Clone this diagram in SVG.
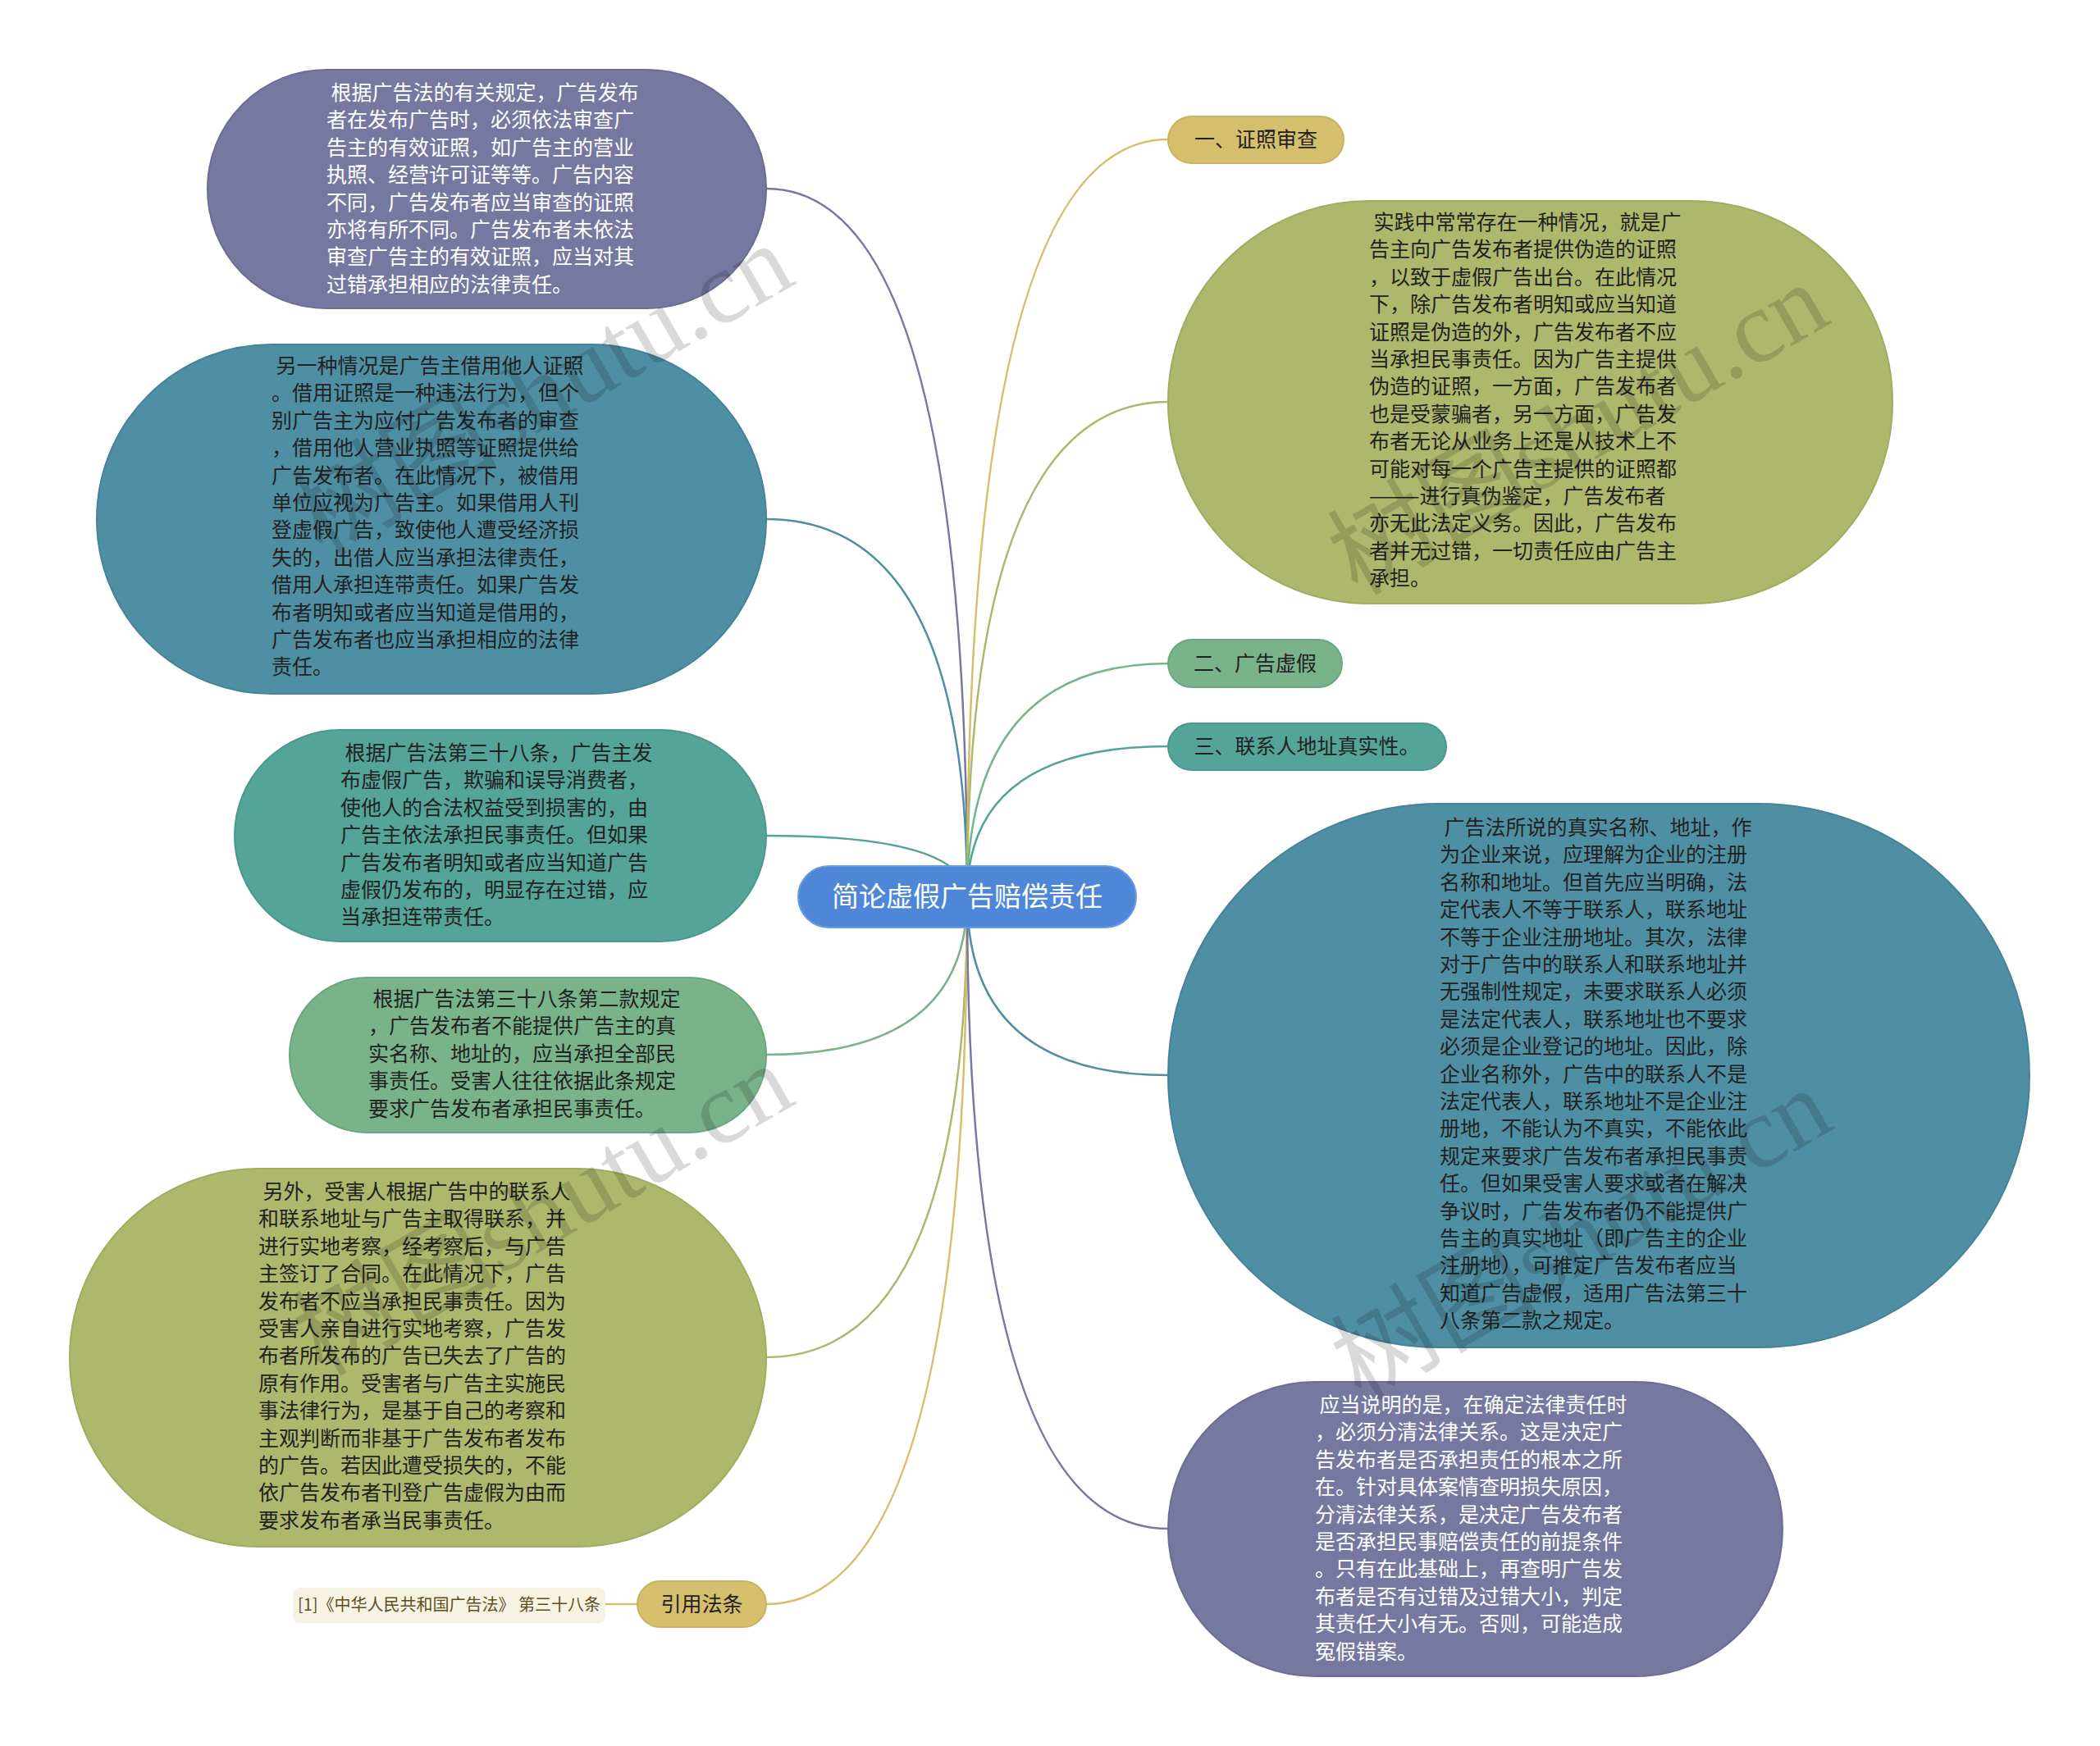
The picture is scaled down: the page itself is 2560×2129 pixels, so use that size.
<svg xmlns="http://www.w3.org/2000/svg" width="2560" height="2129" viewBox="0 0 2560 2129">
<style>
text{font-family:"Noto Sans CJK SC","Noto Sans",sans-serif;}
.body{font-size:25px;fill:#222;}
.wt{fill:#fff;}
.lbl{font-size:25px;fill:#222;text-anchor:middle;}
.root{font-size:33px;fill:#fff;text-anchor:middle;}
.ref{font-size:20px;fill:#5e4e22;text-anchor:middle;}
.c{fill:none;stroke-width:2.5;}
.pu{fill:#77789f;stroke:#6c6d94;stroke-width:2;}
.tb{fill:#4f8fa3;stroke:#478398;stroke-width:2;}
.gt{fill:#54a499;stroke:#4c978c;stroke-width:2;}
.gr{fill:#78b38a;stroke:#6ca67e;stroke-width:2;}
.ol{fill:#adb86c;stroke:#a1ac61;stroke-width:2;}
.go{fill:#d5bf6d;stroke:#c9b262;stroke-width:2;}
.wm{font-family:"Liberation Serif","Noto Sans CJK SC",serif;font-size:125px;fill:#000;fill-opacity:0.15;text-anchor:middle;}
</style>
<rect width="2560" height="2129" fill="#fff"/>
<g id="connectors">
<path class="c" stroke="#77789f" d="M1179 1094 Q1179 230 934 230"/>
<path class="c" stroke="#4f8fa3" d="M1179 1094 Q1179 633 934 633"/>
<path class="c" stroke="#54a499" d="M1179 1094 Q1179 1019 934 1019"/>
<path class="c" stroke="#78b38a" d="M1179 1094 Q1179 1286 934 1286"/>
<path class="c" stroke="#adb86c" d="M1179 1094 Q1179 1655 934 1655"/>
<path class="c" stroke="#d5bf6d" d="M1179 1094 Q1179 1956 934 1956"/>
<path class="c" stroke="#d5bf6d" d="M1179 1094 Q1179 170 1424 170"/>
<path class="c" stroke="#adb86c" d="M1179 1094 Q1179 490 1424 490"/>
<path class="c" stroke="#78b38a" d="M1179 1094 Q1179 809 1424 809"/>
<path class="c" stroke="#54a499" d="M1179 1094 Q1179 910 1424 910"/>
<path class="c" stroke="#4f8fa3" d="M1179 1094 Q1179 1311 1424 1311"/>
<path class="c" stroke="#77789f" d="M1179 1094 Q1179 1864 1424 1864"/>
<path class="c" stroke="#d5bf6d" d="M738 1956 L777 1956"/>
</g>
<g id="n1">
<rect class="pu" x="253" y="85" width="681" height="291" rx="145"/>
<text class="body wt" xml:space="preserve"><tspan x="398" y="122"> 根据广告法的有关规定，广告发布</tspan><tspan x="398" y="155.4">者在发布广告时，必须依法审查广</tspan><tspan x="398" y="188.8">告主的有效证照，如广告主的营业</tspan><tspan x="398" y="222.2">执照、经营许可证等等。广告内容</tspan><tspan x="398" y="255.6">不同，广告发布者应当审查的证照</tspan><tspan x="398" y="289">亦将有所不同。广告发布者未依法</tspan><tspan x="398" y="322.4">审查广告主的有效证照，应当对其</tspan><tspan x="398" y="355.8">过错承担相应的法律责任。</tspan></text>
</g>
<g id="n2">
<rect class="tb" x="118" y="420" width="816" height="426" rx="213"/>
<text class="body" xml:space="preserve"><tspan x="331" y="455"> 另一种情况是广告主借用他人证照</tspan><tspan x="331" y="488.4">。借用证照是一种违法行为，但个</tspan><tspan x="331" y="521.8">别广告主为应付广告发布者的审查</tspan><tspan x="331" y="555.2">，借用他人营业执照等证照提供给</tspan><tspan x="331" y="588.6">广告发布者。在此情况下，被借用</tspan><tspan x="331" y="622">单位应视为广告主。如果借用人刊</tspan><tspan x="331" y="655.4">登虚假广告，致使他人遭受经济损</tspan><tspan x="331" y="688.8">失的，出借人应当承担法律责任，</tspan><tspan x="331" y="722.2">借用人承担连带责任。如果广告发</tspan><tspan x="331" y="755.6">布者明知或者应当知道是借用的，</tspan><tspan x="331" y="789">广告发布者也应当承担相应的法律</tspan><tspan x="331" y="822.4">责任。</tspan></text>
</g>
<g id="n3">
<rect class="gt" x="286" y="890" width="648" height="258" rx="129"/>
<text class="body" xml:space="preserve"><tspan x="415" y="927"> 根据广告法第三十八条，广告主发</tspan><tspan x="415" y="960.4">布虚假广告，欺骗和误导消费者，</tspan><tspan x="415" y="993.8">使他人的合法权益受到损害的，由</tspan><tspan x="415" y="1027.2">广告主依法承担民事责任。但如果</tspan><tspan x="415" y="1060.6">广告发布者明知或者应当知道广告</tspan><tspan x="415" y="1094">虚假仍发布的，明显存在过错，应</tspan><tspan x="415" y="1127.4">当承担连带责任。</tspan></text>
</g>
<g id="n4">
<rect class="gr" x="353" y="1192" width="581" height="189" rx="94"/>
<text class="body" xml:space="preserve"><tspan x="449" y="1227"> 根据广告法第三十八条第二款规定</tspan><tspan x="449" y="1260.4">，广告发布者不能提供广告主的真</tspan><tspan x="449" y="1293.8">实名称、地址的，应当承担全部民</tspan><tspan x="449" y="1327.2">事责任。受害人往往依据此条规定</tspan><tspan x="449" y="1360.6">要求广告发布者承担民事责任。</tspan></text>
</g>
<g id="n5">
<rect class="ol" x="85" y="1425" width="849" height="461" rx="230"/>
<text class="body" xml:space="preserve"><tspan x="315" y="1462"> 另外，受害人根据广告中的联系人</tspan><tspan x="315" y="1495.4">和联系地址与广告主取得联系，并</tspan><tspan x="315" y="1528.8">进行实地考察，经考察后，与广告</tspan><tspan x="315" y="1562.2">主签订了合同。在此情况下，广告</tspan><tspan x="315" y="1595.6">发布者不应当承担民事责任。因为</tspan><tspan x="315" y="1629">受害人亲自进行实地考察，广告发</tspan><tspan x="315" y="1662.4">布者所发布的广告已失去了广告的</tspan><tspan x="315" y="1695.8">原有作用。受害者与广告主实施民</tspan><tspan x="315" y="1729.2">事法律行为，是基于自己的考察和</tspan><tspan x="315" y="1762.6">主观判断而非基于广告发布者发布</tspan><tspan x="315" y="1796">的广告。若因此遭受损失的，不能</tspan><tspan x="315" y="1829.4">依广告发布者刊登广告虚假为由而</tspan><tspan x="315" y="1862.8">要求发布者承当民事责任。</tspan></text>
</g>
<g id="n6">
<rect class="go" x="777" y="1928" width="157" height="56" rx="28"/>
<text class="lbl" x="855.5" y="1965">引用法条</text>
</g>
<g id="ref">
<rect x="357" y="1936" width="381" height="43" rx="8" fill="#f6f3e3"/>
<text class="ref" x="547.5" y="1964" xml:space="preserve">[1]《中华人民共和国广告法》 第三十八条</text>
</g>
<g id="root">
<rect x="973" y="1056" width="412" height="75" rx="37.5" fill="#4e87d8" stroke="#6a9be0" stroke-width="2"/>
<text class="root" x="1179" y="1105">简论虚假广告赔偿责任</text>
</g>
<g id="r1">
<rect class="go" x="1424" y="142" width="214" height="57" rx="28.5"/>
<text class="lbl" x="1531" y="179">一、证照审查</text>
</g>
<g id="r2">
<rect class="ol" x="1424" y="245" width="883" height="491" rx="245"/>
<text class="body" xml:space="preserve"><tspan x="1669" y="280"> 实践中常常存在一种情况，就是广</tspan><tspan x="1669" y="313.4">告主向广告发布者提供伪造的证照</tspan><tspan x="1669" y="346.8">，以致于虚假广告出台。在此情况</tspan><tspan x="1669" y="380.2">下，除广告发布者明知或应当知道</tspan><tspan x="1669" y="413.6">证照是伪造的外，广告发布者不应</tspan><tspan x="1669" y="447">当承担民事责任。因为广告主提供</tspan><tspan x="1669" y="480.4">伪造的证照，一方面，广告发布者</tspan><tspan x="1669" y="513.8">也是受蒙骗者，另一方面，广告发</tspan><tspan x="1669" y="547.2">布者无论从业务上还是从技术上不</tspan><tspan x="1669" y="580.6">可能对每一个广告主提供的证照都</tspan><tspan x="1669" y="614">———进行真伪鉴定，广告发布者</tspan><tspan x="1669" y="647.4">亦无此法定义务。因此，广告发布</tspan><tspan x="1669" y="680.8">者并无过错，一切责任应由广告主</tspan><tspan x="1669" y="714.2">承担。</tspan></text>
</g>
<g id="r3">
<rect class="gr" x="1424" y="780" width="212" height="58" rx="29"/>
<text class="lbl" x="1530" y="818">二、广告虚假</text>
</g>
<g id="r4">
<rect class="gt" x="1424" y="882" width="339" height="57" rx="28.5"/>
<text class="lbl" x="1593" y="919">三、联系人地址真实性。</text>
</g>
<g id="r5">
<rect class="tb" x="1424" y="980" width="1050" height="663" rx="331"/>
<text class="body" xml:space="preserve"><tspan x="1755" y="1018"> 广告法所说的真实名称、地址，作</tspan><tspan x="1755" y="1051.4">为企业来说，应理解为企业的注册</tspan><tspan x="1755" y="1084.8">名称和地址。但首先应当明确，法</tspan><tspan x="1755" y="1118.2">定代表人不等于联系人，联系地址</tspan><tspan x="1755" y="1151.6">不等于企业注册地址。其次，法律</tspan><tspan x="1755" y="1185">对于广告中的联系人和联系地址并</tspan><tspan x="1755" y="1218.4">无强制性规定，未要求联系人必须</tspan><tspan x="1755" y="1251.8">是法定代表人，联系地址也不要求</tspan><tspan x="1755" y="1285.2">必须是企业登记的地址。因此，除</tspan><tspan x="1755" y="1318.6">企业名称外，广告中的联系人不是</tspan><tspan x="1755" y="1352">法定代表人，联系地址不是企业注</tspan><tspan x="1755" y="1385.4">册地，不能认为不真实，不能依此</tspan><tspan x="1755" y="1418.8">规定来要求广告发布者承担民事责</tspan><tspan x="1755" y="1452.2">任。但如果受害人要求或者在解决</tspan><tspan x="1755" y="1485.6">争议时，广告发布者仍不能提供广</tspan><tspan x="1755" y="1519">告主的真实地址（即广告主的企业</tspan><tspan x="1755" y="1552.4">注册地），可推定广告发布者应当</tspan><tspan x="1755" y="1585.8">知道广告虚假，适用广告法第三十</tspan><tspan x="1755" y="1619.2">八条第二款之规定。</tspan></text>
</g>
<g id="r6">
<rect class="pu" x="1424" y="1685" width="749" height="359" rx="179"/>
<text class="body wt" xml:space="preserve"><tspan x="1603" y="1722"> 应当说明的是，在确定法律责任时</tspan><tspan x="1603" y="1755.4">，必须分清法律关系。这是决定广</tspan><tspan x="1603" y="1788.8">告发布者是否承担责任的根本之所</tspan><tspan x="1603" y="1822.2">在。针对具体案情查明损失原因，</tspan><tspan x="1603" y="1855.6">分清法律关系，是决定广告发布者</tspan><tspan x="1603" y="1889">是否承担民事赔偿责任的前提条件</tspan><tspan x="1603" y="1922.4">。只有在此基础上，再查明广告发</tspan><tspan x="1603" y="1955.8">布者是否有过错及过错大小，判定</tspan><tspan x="1603" y="1989.2">其责任大小有无。否则，可能造成</tspan><tspan x="1603" y="2022.6">冤假错案。</tspan></text>
</g>
<g id="watermarks">
<text class="wm" transform="translate(683 512) rotate(-30)">树图shutu.cn</text>
<text class="wm" transform="translate(1945 560) rotate(-30)">树图shutu.cn</text>
<text class="wm" transform="translate(683 1512) rotate(-30)">树图shutu.cn</text>
<text class="wm" transform="translate(1949 1542) rotate(-30)">树图shutu.cn</text>
</g>
</svg>
